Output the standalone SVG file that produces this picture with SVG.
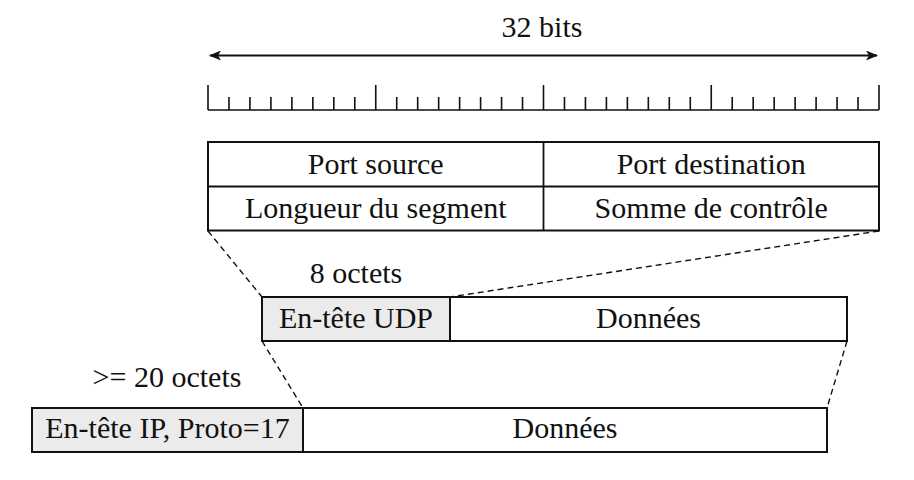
<svg xmlns="http://www.w3.org/2000/svg" width="914" height="480" viewBox="0 0 914 480">
  <style>
    .box { fill: #ffffff; stroke: #111; stroke-width: 2; }
    .hdr { fill: #ebebeb; stroke: #111; stroke-width: 2; }
    .line { fill: none; stroke: #111; stroke-width: 1.8; }
    .rule { fill: none; stroke: #111; stroke-width: 1.6; }
    .dash { fill: none; stroke: #111; stroke-width: 1.4; stroke-dasharray: 6 4; }
  </style>
  <defs>
    <marker id="arrow" viewBox="0 0 12 10" refX="11" refY="5" markerWidth="12" markerHeight="10" markerUnits="userSpaceOnUse" orient="auto-start-reverse">
      <path d="M0,0 L12,5 L0,10 L3,5 Z" fill="#111"/>
    </marker>
  </defs>
  <rect width="914" height="480" fill="#ffffff"/>

  <g id="width-arrow" font-family="Liberation Serif" font-size="30" fill="#111" text-anchor="middle">
    <line class="line" x1="210" y1="55.5" x2="877" y2="55.5" marker-start="url(#arrow)" marker-end="url(#arrow)"/>
    <text x="542" y="37">32 bits</text>
  </g>

  <g id="ruler">
    <path class="rule" d="M208,110 H879
      M208,85 V110 M375.75,85 V110 M543.5,85 V110 M711.25,85 V110 M879,85 V110
      M228.97,97 V110 M249.94,97 V110 M270.91,97 V110 M291.88,97 V110 M312.84,97 V110 M333.81,97 V110 M354.78,97 V110
      M396.72,97 V110 M417.69,97 V110 M438.66,97 V110 M459.63,97 V110 M480.59,97 V110 M501.56,97 V110 M522.53,97 V110
      M564.47,97 V110 M585.44,97 V110 M606.41,97 V110 M627.38,97 V110 M648.34,97 V110 M669.31,97 V110 M690.28,97 V110
      M732.22,97 V110 M753.19,97 V110 M774.16,97 V110 M795.13,97 V110 M816.09,97 V110 M837.06,97 V110 M858.03,97 V110"/>
  </g>

  <g id="udp-header-table" font-family="Liberation Serif" font-size="30" fill="#111" text-anchor="middle">
    <rect class="box" x="208" y="142" width="671" height="88.5"/>
    <line class="line" x1="208" y1="186.5" x2="879" y2="186.5"/>
    <line class="line" x1="543.5" y1="142" x2="543.5" y2="230.5"/>
    <text x="375.75" y="174">Port source</text>
    <text x="711.25" y="174">Port destination</text>
    <text x="375.75" y="218">Longueur du segment</text>
    <text x="711.25" y="218">Somme de contrôle</text>
  </g>

  <g id="connectors">
    <line class="dash" x1="208" y1="231" x2="262" y2="297"/>
    <line class="dash" x1="879" y1="231" x2="450" y2="297"/>
    <line class="dash" x1="262" y1="341" x2="303" y2="408"/>
    <line class="dash" x1="847" y1="341" x2="827" y2="408"/>
  </g>

  <g id="udp-segment" font-family="Liberation Serif" font-size="30" fill="#111" text-anchor="middle">
    <text x="356" y="283">8 octets</text>
    <rect class="box" x="262" y="297" width="585" height="44"/>
    <rect class="hdr" x="262" y="297" width="188" height="44"/>
    <text x="356" y="327.5">En-tête UDP</text>
    <text x="648.5" y="327.5">Données</text>
  </g>

  <g id="ip-packet" font-family="Liberation Serif" font-size="30" fill="#111" text-anchor="middle">
    <text x="167" y="387">&gt;= 20 octets</text>
    <rect class="box" x="32" y="408" width="795" height="44"/>
    <rect class="hdr" x="32" y="408" width="271" height="44"/>
    <text x="167.5" y="438">En-tête IP, Proto=17</text>
    <text x="565" y="438">Données</text>
  </g>
</svg>
